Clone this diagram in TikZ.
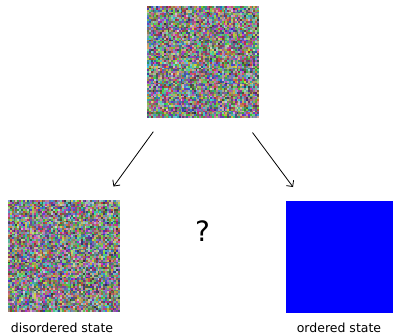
\documentclass[tikz,border=0pt]{standalone}
\usepackage{fontspec}
\setmainfont{DejaVu Sans}
\usetikzlibrary{arrows.meta}
\newcommand\noisefill[2]{%
  \foreach \i in {0,...,59}{\foreach \j in {0,...,59}{%
    \pgfmathrandominteger{\cr}{45}{215}%
    \pgfmathrandominteger{\cg}{45}{215}%
    \pgfmathrandominteger{\cb}{45}{215}%
    \definecolor{nz}{RGB}{\cr,\cg,\cb}%
    \pgfsetfillcolor{nz}%
    \pgfpathrectangle{\pgfpoint{#1pt+\i*1.8667pt}{-#2pt-\j*1.8667pt}}{\pgfpoint{2.1pt}{-2.1pt}}%
    \pgfusepath{fill}%
  }}}
\begin{document}
\begin{tikzpicture}[x=1pt,y=-1pt,
  sq/.style={rectangle, draw=none, inner sep=0pt, minimum width=112pt, minimum height=112pt, anchor=north west},
  lbl/.style={inner sep=0pt, font=\fontsize{12.5}{14}\selectfont, text=black, anchor=base},
  qlbl/.style={inner sep=0pt, font=\fontsize{28}{30}\selectfont, text=black, anchor=base},
  arr/.style={-{Straight Barb[length=4.5pt,width=9pt]}, line width=0.8pt, black}]
\useasboundingbox (0,0) rectangle (393,335);
\pgfmathsetseed{12345}
% squares
\begin{scope}
\noisefill{147}{6}
\end{scope}
\node[sq] (top) at (147,6) {};
\begin{scope}
\noisefill{8}{200}
\end{scope}
\node[sq] (dis) at (8,200) {};
\fill[blue] (286,201) rectangle (393,313);
\node[sq, minimum width=107pt] (ord) at (286,201) {};
% labels
\node[lbl] (ldis) at (62,332.5) {disordered state};
\node[lbl] (lord) at (339,332.5) {ordered state};
\node[qlbl] (q) at (202.5,241) {?};
% arrows
\coordinate (a1) at (153.3,131.7);
\coordinate (b1) at (113.5,186.5);
\coordinate (a2) at (252.5,132.5);
\coordinate (b2) at (293,187);
\draw[arr] (a1) -- (b1);
\draw[arr] (a2) -- (b2);
\end{tikzpicture}
\end{document}
